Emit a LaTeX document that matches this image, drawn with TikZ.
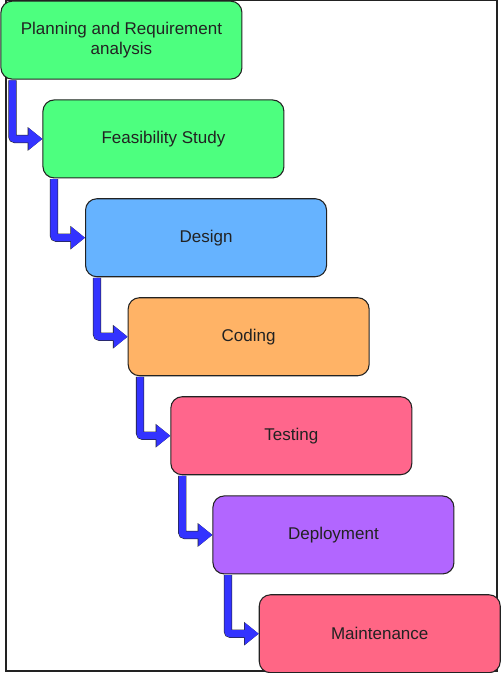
\documentclass[tikz,border=0pt]{standalone}
\usepackage{fontspec}
\setmainfont{Liberation Sans}
\usepackage{xcolor}
\usepackage{tikz}
\usetikzlibrary{arrows.meta,calc}

\definecolor{sgreen}{HTML}{4DFF7F}
\definecolor{sblue}{HTML}{66B3FF}
\definecolor{sorange}{HTML}{FFB366}
\definecolor{spink}{HTML}{FF668C}
\definecolor{spurple}{HTML}{B266FF}
\definecolor{sred}{HTML}{FF6685}
\definecolor{arrblue}{HTML}{3333FF}
\definecolor{ink}{HTML}{222222}

\tikzset{
  stage/.style={draw=ink, line width=0.8pt, rounded corners=8.5pt, anchor=north west,
    minimum width=180.75pt, minimum height=58.5pt, text=ink, align=center,
    font=\fontsize{12.75}{15}\selectfont},
  flow/.style={draw=arrblue, line width=5.4pt, rounded corners=2pt,
    -{Triangle[length=10.5pt,width=16pt]},
    preaction={draw=ink, line width=6.2pt, -{Triangle[length=11pt,width=17pt]}}}
}

\begin{document}
\begin{tikzpicture}[x=0.75pt,y=-0.75pt]
\useasboundingbox (0,0) rectangle (500,673);
\draw[ink, line width=0.8pt] (6,0.6) rectangle (497,671);

% the stages
\node[stage, fill=sgreen] (plan) at (0.4,0.6) {Planning and Requirement\\analysis};
\node[stage, fill=sgreen] (feas) at (42.4,99.4) {Feasibility Study};
\node[stage, fill=sblue] (design) at (85,198.2) {Design};
\node[stage, fill=sorange] (coding) at (127.6,297.2) {Coding};
\node[stage, fill=spink] (testing) at (170.3,396.2) {Testing};
\node[stage, fill=spurple] (deploy) at (212.4,495.4) {Deployment};
\node[stage, fill=sred] (maint) at (258.7,594.2) {Maintenance};

% the flow
\draw[flow] ($(plan.south west)+(12,0.6)$) |- (feas.west);
\draw[flow] ($(feas.south west)+(11.5,0.6)$) |- (design.west);
\draw[flow] ($(design.south west)+(12,0.6)$) |- (coding.west);
\draw[flow] ($(coding.south west)+(12.5,0.6)$) |- (testing.west);
\draw[flow] ($(testing.south west)+(12,0.6)$) |- (deploy.west);
\draw[flow] ($(deploy.south west)+(15.5,0.6)$) |- (maint.west);
\end{tikzpicture}
\end{document}
